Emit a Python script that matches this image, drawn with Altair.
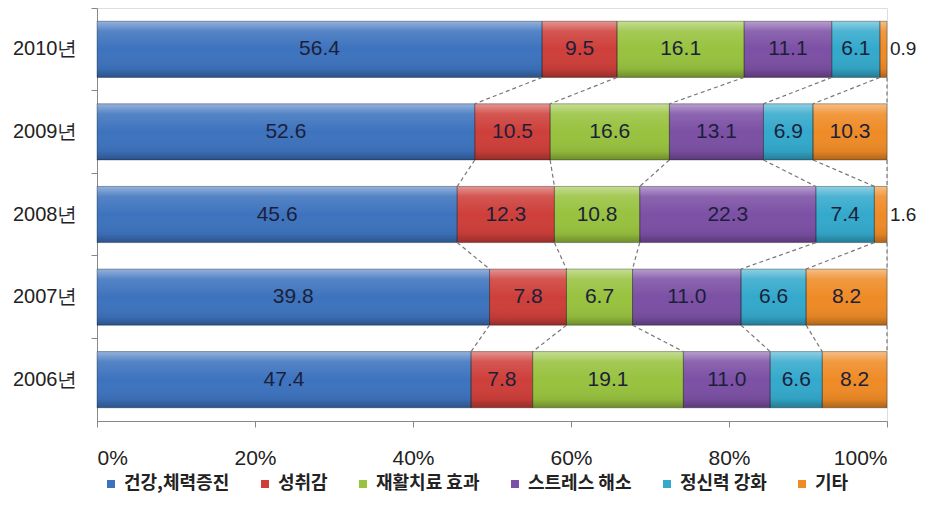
import altair as alt
import pandas as pd

years = ["2010년", "2009년", "2008년", "2007년", "2006년"]
categories = ["건강,체력증진", "성취감", "재활치료 효과", "스트레스 해소", "정신력 강화", "기타"]
health = [56.4, 52.6, 45.6, 39.8, 47.4]
achievement = [9.5, 10.5, 12.3, 7.8, 7.8]
rehab = [16.1, 16.6, 10.8, 6.7, 19.1]
stress = [11.1, 13.1, 22.3, 11.0, 11.0]
mental = [6.1, 6.9, 7.4, 6.6, 6.6]
other = [0.9, 10.3, 1.6, 8.2, 8.2]
colors = ["#3D73BE", "#CE3F3A", "#98C23F", "#7C50A5", "#34A9CC", "#EF8B26"]

series = [health, achievement, rehab, stress, mental, other]
BAR = 0.68

rows = []
cums = []
for i, yr in enumerate(years):
    vals = [s[i] for s in series]
    total = sum(vals)
    cum = 0.0
    ends = []
    for k, v in enumerate(vals):
        start = cum / total
        cum += v
        end = cum / total
        ends.append(end)
        small = (v / total) < 0.03
        rows.append(dict(year=yr, cat=categories[k], value=v, start=start, end=end,
                         mid=(start + end) / 2, label=f"{v:.1f}", small=small))
    cums.append(ends)
df = pd.DataFrame(rows)

conn = []
for i in range(len(years) - 1):
    for k in range(len(categories)):
        conn.append(dict(cx=cums[i][k], cx2=cums[i + 1][k],
                         cy=i + 0.5 + BAR / 2, cy2=i + 1.5 - BAR / 2))
cdf = pd.DataFrame(conn)

FONT = "Liberation Sans"
xscale = alt.Scale(domain=[0, 1], nice=False, zero=True)
xaxis = alt.Axis(title=None, format="%", values=[0, 0.2, 0.4, 0.6, 0.8, 1.0],
                 labelFont=FONT, labelFontSize=21, labelColor="#222222",
                 labelPadding=20, tickSize=6, tickColor="#888888",
                 domainColor="#888888", grid=False)
yaxis = alt.Axis(title=None, bandPosition=0, labelFont=FONT, labelFontSize=20,
                 labelColor="#222222", labelPadding=14, tickSize=6,
                 tickColor="#888888", domainColor="#888888", grid=False)
yenc = alt.Y("year:N", sort=years, scale=alt.Scale(paddingInner=0, paddingOuter=0),
             axis=yaxis)

bars = alt.Chart(df).mark_bar(height={"band": BAR}).encode(
    x=alt.X("start:Q", scale=xscale, axis=xaxis),
    x2="end:Q",
    y=yenc,
    color=alt.Color("cat:N", scale=alt.Scale(domain=categories, range=colors),
                    legend=alt.Legend(title=None, orient="none", direction="horizontal",
                                      legendX=5, legendY=467, symbolType="square",
                                      symbolSize=64, symbolStrokeWidth=0,
                                      labelFont="Noto Sans CJK KR", labelFontWeight="bold",
                                      labelFontSize=18, labelColor="#222222",
                                      labelOffset=4, columnPadding=26, padding=0)),
)

shade = alt.Chart(df).mark_bar(
    height={"band": BAR},
    fill=alt.Gradient(gradient="linear", x1=0, x2=0, y1=0, y2=1, stops=[
        alt.GradientStop(offset=0, color="rgba(255,255,255,0.45)"),
        alt.GradientStop(offset=0.18, color="rgba(255,255,255,0.12)"),
        alt.GradientStop(offset=0.5, color="rgba(255,255,255,0)"),
        alt.GradientStop(offset=0.85, color="rgba(0,0,0,0.06)"),
        alt.GradientStop(offset=1, color="rgba(0,0,0,0.28)"),
    ]),
    stroke="rgba(0,0,0,0.3)", strokeWidth=1,
).encode(x=alt.X("start:Q", scale=xscale, axis=xaxis), x2="end:Q", y=yenc)

labels_in = alt.Chart(df).transform_filter("!datum.small").mark_text(
    font=FONT, fontSize=21, color="#1c1f3a", baseline="middle", align="center"
).encode(x=alt.X("mid:Q", scale=xscale, axis=xaxis), y=yenc, text="label:N")

labels_out = alt.Chart(df).transform_filter("datum.small").mark_text(
    font=FONT, fontSize=19, color="#222222", baseline="middle", align="left", dx=3
).encode(x=alt.X("end:Q", scale=xscale, axis=xaxis), y=yenc, text="label:N")

connectors = alt.Chart(cdf).mark_rule(
    color="#777777", strokeWidth=1.2, strokeDash=[4, 3]
).encode(
    x=alt.X("cx:Q", scale=xscale, axis=xaxis), x2="cx2:Q",
    y=alt.Y("cy:Q", scale=alt.Scale(domain=[0, 5], reverse=True, nice=False, zero=False),
            axis=None),
    y2="cy2:Q",
)

chart = alt.layer(
    alt.layer(bars, shade, labels_in, labels_out),
    connectors,
).resolve_scale(y="independent").resolve_axis(y="independent").properties(
    width=790, height=413,
    autosize=alt.AutoSizeParams(type="none"),
    padding={"left": 89, "top": 0, "right": 30, "bottom": 75},
).configure_view(stroke=None).configure(background="white")

chart.save("out.html", embed_options={"renderer": "svg", "actions": False})
